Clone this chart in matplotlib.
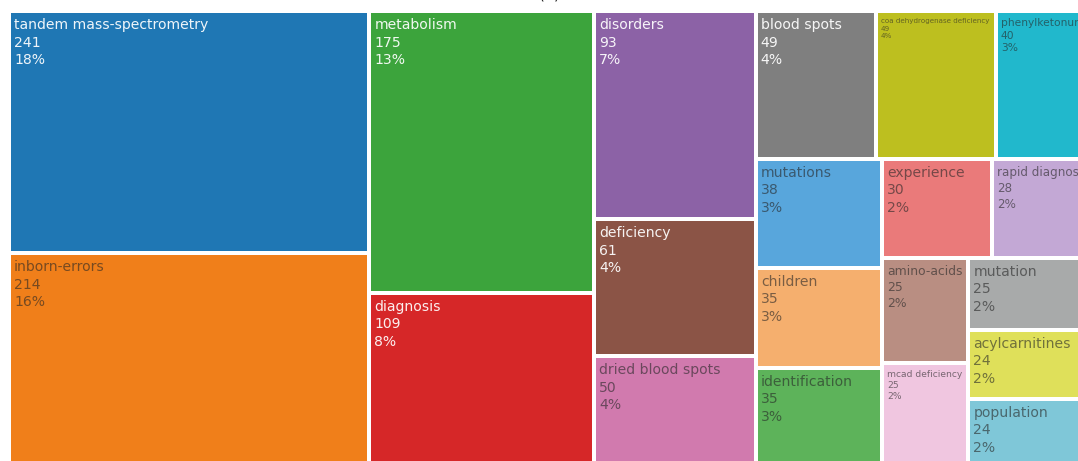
import numpy as np
import matplotlib.pyplot as plt
from matplotlib.patches import Rectangle
from matplotlib.colors import to_rgb

labels = ["tandem mass-spectrometry", "inborn-errors", "metabolism", "diagnosis",
          "disorders", "deficiency", "dried blood spots", "blood spots",
          "coa dehydrogenase deficiency", "phenylketonuria", "mutations", "children",
          "identification", "experience", "rapid diagnosis", "amino-acids",
          "mcad deficiency", "mutation", "acylcarnitines", "population"]
counts = [241, 214, 175, 109, 93, 61, 50, 49, 49, 40, 38, 35, 35, 30, 28, 25, 25, 25, 24, 24]

colors = ["#1f77b4", "#f07f1a", "#3ca43c", "#d62728", "#8c62a6", "#8b5446", "#d17aae",
          "#7f7f7f", "#bdbf1f", "#21b8cc", "#58a6dc", "#f5af6e", "#5db35a", "#ea7a7a",
          "#c3a8d5", "#b98e82", "#f0c6e0", "#a8aaaa", "#dfe05a", "#7fc7d8"]

W, H = 1078, 461
PX = 72 / 100  # px -> pt at dpi 100


# squarified treemap (Bruls et al.), y measured downwards
def layout_row(sizes, x, y, dx, dy):
    width = sum(sizes) / dy
    rects = []
    for s in sizes:
        rects.append((x, y, width, s / width))
        y += s / width
    return rects


def layout_col(sizes, x, y, dx, dy):
    height = sum(sizes) / dx
    rects = []
    for s in sizes:
        rects.append((x, y, s / height, height))
        x += s / height
    return rects


def layout_strip(sizes, x, y, dx, dy):
    return layout_row(sizes, x, y, dx, dy) if dx >= dy else layout_col(sizes, x, y, dx, dy)


def leftover(sizes, x, y, dx, dy):
    area = sum(sizes)
    if dx >= dy:
        w = area / dy
        return x + w, y, dx - w, dy
    h = area / dx
    return x, y + h, dx, dy - h


def worst(sizes, x, y, dx, dy):
    return max(max(r[2] / r[3], r[3] / r[2]) for r in layout_strip(sizes, x, y, dx, dy))


def squarify(sizes, x, y, dx, dy):
    if len(sizes) == 0:
        return []
    i = 1
    while i < len(sizes) and worst(sizes[:i], x, y, dx, dy) >= worst(sizes[:i + 1], x, y, dx, dy):
        i += 1
    cur, rest = sizes[:i], sizes[i:]
    return layout_strip(cur, x, y, dx, dy) + squarify(rest, *leftover(cur, x, y, dx, dy))


# treemap domain runs past the right and bottom edges of the canvas
x0, y0, dx, dy = 9, 11, 1085, 457
total = sum(counts)
areas = [c * dx * dy / total for c in counts]
rects = squarify(areas, x0, y0, dx, dy)

fig = plt.figure(figsize=(W / 100, H / 100), dpi=100)
ax = fig.add_axes([0, 0, 1, 1])
ax.set_xlim(0, W)
ax.set_ylim(H, 0)
ax.axis("off")
renderer = fig.canvas.get_renderer()

gap = 2
for (rx, ry, rw, rh), lab, n, col in zip(rects, labels, counts, colors):
    bx, by, bw, bh = rx + gap, ry + gap, rw - 2 * gap, rh - 2 * gap
    ax.add_patch(Rectangle((bx, by), bw, bh, facecolor=col, edgecolor="none"))

    r, g, b = to_rgb(col)
    lum = 0.299 * r + 0.587 * g + 0.114 * b
    if lum < 0.53:
        tcol = (1, 1, 1, 0.93)
    else:
        tcol = tuple(0.4 * c + 0.6 * 0.15 for c in (r, g, b))

    txt = f"{lab}\n{n}\n{round(n / total * 100)}%"
    t = ax.text(bx + 3, by + 5, txt, ha="left", va="top", color=tcol,
                fontsize=14 * PX, family="DejaVu Sans", linespacing=1.32)
    # shrink label to fit box width
    tw = t.get_window_extent(renderer).width
    avail = bw - 7
    if tw > avail:
        t.set_fontsize(14 * PX * avail / tw)

# panel tag, mostly above the top edge
ax.text(550, -1.5, "(A)", ha="center", va="baseline", fontsize=15 * PX,
        family="DejaVu Sans", color="#222222")

fig.savefig("out.png", dpi=100)
